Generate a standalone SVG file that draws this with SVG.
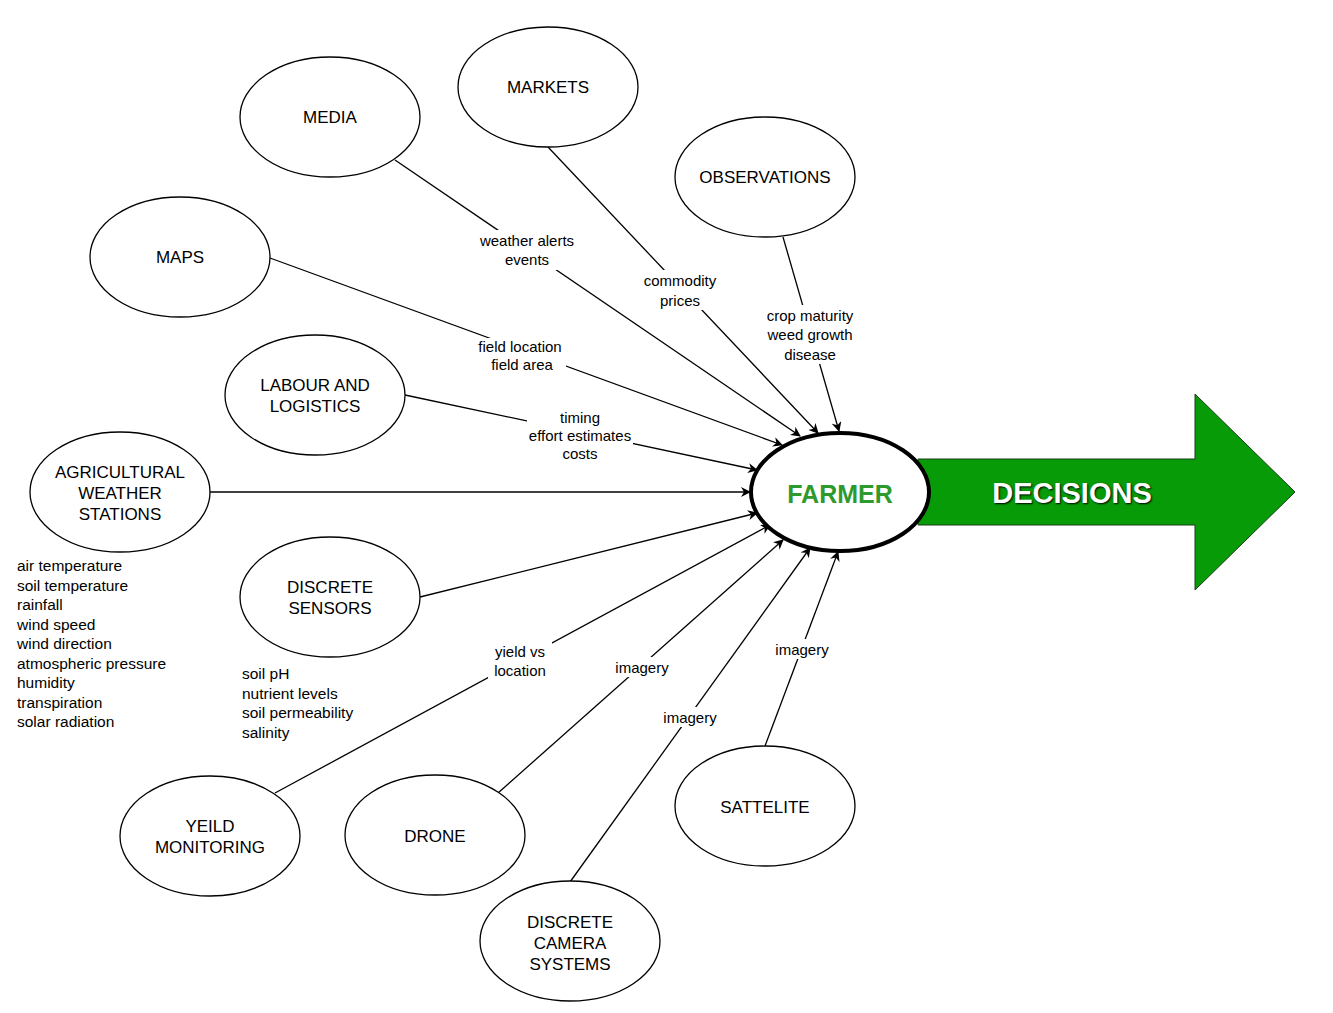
<svg xmlns="http://www.w3.org/2000/svg" width="1333" height="1013" viewBox="0 0 1333 1013">
<style>
.n{fill:#fff;stroke:#000;stroke-width:1.3}
.t{font-family:"Liberation Sans",Arial,sans-serif;font-size:17px;text-anchor:middle;fill:#000}
.l{font-family:"Liberation Sans",Arial,sans-serif;font-size:15px;text-anchor:middle;fill:#000}
.b{fill:#fff}
.s{font-family:"Liberation Sans",Arial,sans-serif;font-size:15.5px;fill:#000}
.c{stroke:#000;stroke-width:1.3;fill:none;marker-end:url(#a)}
</style>
<defs><marker id="a" markerWidth="10" markerHeight="10" refX="9" refY="5" orient="auto" markerUnits="userSpaceOnUse"><path d="M0,0 L10,5 L0,10 L3,5 z" fill="#000"/></marker></defs>
<rect width="1333" height="1013" fill="#fff"/>
<g id="connectors">
<line class="c" x1="395" y1="160" x2="800" y2="436"/>
<line class="c" x1="548" y1="147" x2="818" y2="433"/>
<line class="c" x1="783" y1="237" x2="839" y2="431"/>
<line class="c" x1="270" y1="258" x2="782" y2="445"/>
<line class="c" x1="405" y1="395" x2="757" y2="470"/>
<line class="c" x1="210" y1="492" x2="750" y2="492"/>
<line class="c" x1="420" y1="597" x2="757" y2="513"/>
<line class="c" x1="275" y1="793" x2="770" y2="525"/>
<line class="c" x1="498" y1="793" x2="783" y2="540"/>
<line class="c" x1="570" y1="882" x2="810" y2="548"/>
<line class="c" x1="765" y1="746" x2="838" y2="552"/>
<rect class="b" x="474" y="230" width="108" height="40"/>
<rect class="b" x="638" y="270" width="86" height="40"/>
<rect class="b" x="760" y="305" width="100" height="59"/>
<rect class="b" x="476" y="338" width="90" height="36"/>
<rect class="b" x="527" y="408" width="106" height="54"/>
<rect class="b" x="488" y="641" width="64" height="40"/>
<rect class="b" x="611" y="657" width="62" height="20"/>
<rect class="b" x="659" y="707" width="62" height="20"/>
<rect class="b" x="771" y="639" width="62" height="20"/>
<text class="l" x="527" y="246">weather alerts<tspan x="527" dy="19">events</tspan></text>
<text class="l" x="680" y="286">commodity<tspan x="680" dy="20">prices</tspan></text>
<text class="l" x="810" y="321">crop maturity<tspan x="810" dy="19">weed growth</tspan><tspan x="810" dy="20">disease</tspan></text>
<text class="l" x="520" y="352" font-size="14">field location<tspan x="522" dy="18">field area</tspan></text>
<text class="l" x="580" y="423" font-size="14">timing<tspan x="580" dy="18">effort estimates</tspan><tspan x="580" dy="18">costs</tspan></text>
<text class="l" x="520" y="657">yield vs<tspan x="520" dy="19">location</tspan></text>
<text class="l" x="642" y="673">imagery</text>
<text class="l" x="690" y="723">imagery</text>
<text class="l" x="802" y="655">imagery</text>
</g>
<g id="decisions"><polygon points="918,459 1195,459 1195,394 1295,492 1195,590 1195,525 918,525" fill="#079c07" stroke="#1a3d1a" stroke-width="1"/>
<text x="1072" y="503" font-family="Liberation Sans,Arial,sans-serif" font-size="29" font-weight="bold" fill="#fff" text-anchor="middle" style="text-shadow:1px 1px 2px #000">DECISIONS</text></g>
<g id="farmer"><ellipse cx="840" cy="492" rx="89" ry="59" fill="#fff" stroke="#000" stroke-width="4"/><text x="840" y="503" font-family="Liberation Sans,Arial,sans-serif" font-size="25" font-weight="bold" fill="#2e9a2e" text-anchor="middle">FARMER</text></g>
<g id="media"><ellipse class="n" cx="330" cy="117" rx="90" ry="60"/><text class="t" x="330" y="123">MEDIA</text></g>
<g id="markets"><ellipse class="n" cx="548" cy="87" rx="90" ry="60"/><text class="t" x="548" y="93">MARKETS</text></g>
<g id="observations"><ellipse class="n" cx="765" cy="177" rx="90" ry="60"/><text class="t" x="765" y="183">OBSERVATIONS</text></g>
<g id="maps"><ellipse class="n" cx="180" cy="257" rx="90" ry="60"/><text class="t" x="180" y="263">MAPS</text></g>
<g id="labour"><ellipse class="n" cx="315" cy="395" rx="90" ry="60"/><text class="t" x="315" y="391">LABOUR AND<tspan x="315" dy="21">LOGISTICS</tspan></text></g>
<g id="weather"><ellipse class="n" cx="120" cy="492" rx="90" ry="60"/><text class="t" x="120" y="478">AGRICULTURAL<tspan x="120" dy="21">WEATHER</tspan><tspan x="120" dy="21">STATIONS</tspan></text></g>
<g id="sensors"><ellipse class="n" cx="330" cy="597" rx="90" ry="60"/><text class="t" x="330" y="593">DISCRETE<tspan x="330" dy="21">SENSORS</tspan></text></g>
<g id="yield"><ellipse class="n" cx="210" cy="836" rx="90" ry="60"/><text class="t" x="210" y="832">YEILD<tspan x="210" dy="21">MONITORING</tspan></text></g>
<g id="drone"><ellipse class="n" cx="435" cy="835" rx="90" ry="60"/><text class="t" x="435" y="842">DRONE</text></g>
<g id="camera"><ellipse class="n" cx="570" cy="941" rx="90" ry="60"/><text class="t" x="570" y="928">DISCRETE<tspan x="570" dy="21">CAMERA</tspan><tspan x="570" dy="21">SYSTEMS</tspan></text></g>
<g id="satellite"><ellipse class="n" cx="765" cy="806" rx="90" ry="60"/><text class="t" x="765" y="813">SATTELITE</text></g>
<text class="s" x="17" y="571">air temperature<tspan x="17" dy="19.5">soil temperature</tspan><tspan x="17" dy="19.5">rainfall</tspan><tspan x="17" dy="19.5">wind speed</tspan><tspan x="17" dy="19.5">wind direction</tspan><tspan x="17" dy="19.5">atmospheric pressure</tspan><tspan x="17" dy="19.5">humidity</tspan><tspan x="17" dy="19.5">transpiration</tspan><tspan x="17" dy="19.5">solar radiation</tspan></text>
<text class="s" x="242" y="679">soil pH<tspan x="242" dy="19.5">nutrient levels</tspan><tspan x="242" dy="19.5">soil permeability</tspan><tspan x="242" dy="19.5">salinity</tspan></text>
</svg>
